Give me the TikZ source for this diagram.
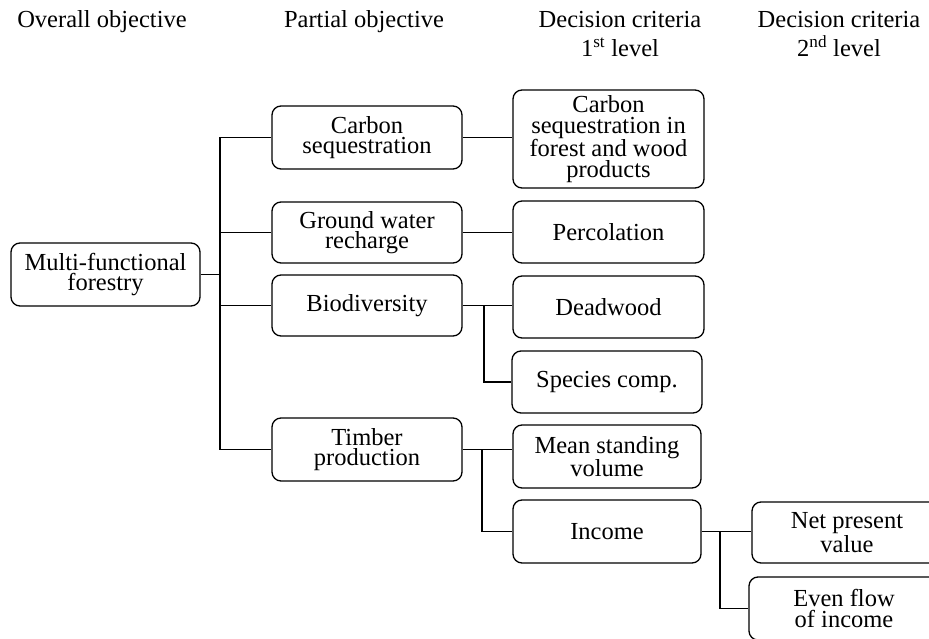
\documentclass[tikz,border=0pt]{standalone}
\usepackage{fontspec}
\setmainfont{Liberation Serif}
\begin{document}
\begin{tikzpicture}[x=1pt,y=-1pt,
  box/.style={draw, rounded corners=9pt, line width=1.3pt,
    minimum width=190pt, minimum height=62pt, align=center, inner sep=2pt,
    font=\fontsize{24.5}{20.5}\selectfont},
  head/.style={anchor=base, font=\fontsize{24.5}{29}\selectfont},
  link/.style={line width=1.3pt}]
\useasboundingbox (0,0) rectangle (929,639);
\clip (0,0) rectangle (929,639);

% column headings
\node[head] (h1)  at (102,28) {Overall objective};
\node[head] (h2)  at (364,28) {Partial objective};
\node[head] (h3a) at (620,28) {Decision criteria};
\node[head] (h3b) at (620,57) {1\textsuperscript{st} level};
\node[head] (h4a) at (839,28) {Decision criteria};
\node[head] (h4b) at (839,57) {2\textsuperscript{nd} level};

% overall objective
\node[box, minimum width=189pt, minimum height=63pt] (mf) at (105.5,274.5) {Multi-functional\\forestry};

% partial objectives
\node[box, minimum height=63pt] (carbon) at (367,137.5) {Carbon\\sequestration};
\node[box, minimum height=61pt] (ground) at (367,232.5) {Ground water\\recharge};
\node[box, minimum height=61pt] (bio)    at (367,305.5) {Biodiversity};
\node[box, minimum height=63pt] (timber) at (367,449.5) {Timber\\production};

% decision criteria, first level
\node[box, minimum width=191pt, minimum height=98pt] (cseq) at (608.5,139) {Carbon\\sequestration in\\forest and wood\\products};
\node[box, minimum width=191pt] (perc)    at (608.5,232) {Percolation};
\node[box, minimum width=191pt] (dead)    at (608.5,307) {Deadwood};
\node[box] (species) at (607,382) {Species comp.};
\node[box, minimum width=188pt, minimum height=63pt] (mean)   at (607,456.5) {Mean standing\\volume};
\node[box, minimum width=188pt, minimum height=63pt] (income) at (607,531.5) {Income};

% decision criteria, second level
\node[box, minimum height=61pt] (npv)  at (847,532.5) {Net present\\value};
\node[box, minimum height=63pt] (even) at (844,608.5) {Even flow\\of income};

% branching points
\coordinate (trunk) at (220,0);
\coordinate (forkB) at (484,0);
\coordinate (forkT) at (482,0);
\coordinate (forkI) at (720,0);

% overall -> partial
\draw[link] (mf.east) -- (mf.east -| trunk);
\draw[link] (carbon.west -| trunk) -- (timber.west -| trunk);
\draw[link] (carbon.west -| trunk) -- (carbon.west);
\draw[link] (ground.west -| trunk) -- (ground.west);
\draw[link] (bio.west -| trunk) -- (bio.west);
\draw[link] (timber.west -| trunk) -- (timber.west);

% partial -> first level
\draw[link] (carbon.east) -- (carbon.east -| cseq.west);
\draw[link] (ground.east) -- (ground.east -| perc.west);
\draw[link] (bio.east) -- (bio.east -| dead.west);
\draw[link] (bio.east -| forkB) |- (species.west);
\draw[link] (timber.east) -- (timber.east -| mean.west);
\draw[link] (timber.east -| forkT) |- (income.west);

% first level -> second level
\draw[link] (income.east) -- (income.east -| npv.west);
\draw[link] (income.east -| forkI) |- (even.west);
\end{tikzpicture}
\end{document}
